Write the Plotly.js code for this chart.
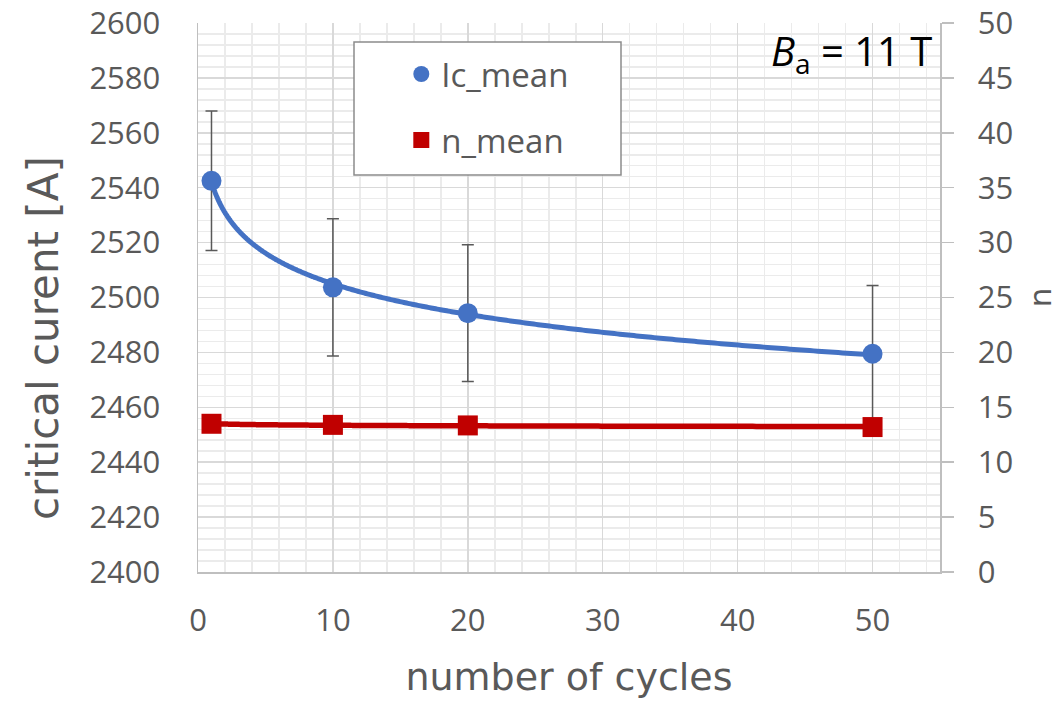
<!DOCTYPE html>
<html>
<head>
<meta charset="utf-8">
<script src="https://cdn.plot.ly/plotly-3.0.1.min.js"></script>
<style>
  html, body { margin: 0; padding: 0; background: #ffffff; }
  #chart { width: 1058px; height: 704px; }
</style>
</head>
<body>
<div id="chart"></div>
<script>
// Number of magnet cycles at which the critical current was measured
const cycles = [1, 10, 20, 50];
// Mean critical current Ic [A] and its spread
const icMean = [2542.5, 2503.7, 2494.3, 2479.5];
const icErr = [25.4, 25.0, 24.9, 24.9];
// Mean n-value of the transition
const nMean = [13.5, 13.4, 13.35, 13.2];

const xTickVals = [0, 10, 20, 30, 40, 50];
const yTickVals = [2400, 2420, 2440, 2460, 2480, 2500, 2520, 2540, 2560, 2580, 2600];
const y2TickVals = [0, 5, 10, 15, 20, 25, 30, 35, 40, 45, 50];

// Least-squares logarithmic trendline y = a*ln(x) + b through the measured points,
// sampled evenly in ln(x) so the steep start stays smooth
function logTrend(xs, ys, samples) {
  const lx = xs.map(Math.log);
  const n = xs.length;
  const mx = lx.reduce((s, v) => s + v, 0) / n;
  const my = ys.reduce((s, v) => s + v, 0) / n;
  let sxy = 0, sxx = 0;
  for (let i = 0; i < n; i++) {
    sxy += (lx[i] - mx) * (ys[i] - my);
    sxx += (lx[i] - mx) * (lx[i] - mx);
  }
  const a = sxy / sxx;
  const b = my - a * mx;
  const l0 = Math.log(Math.min(...xs)), l1 = Math.log(Math.max(...xs));
  const tx = [], ty = [];
  for (let k = 0; k <= samples; k++) {
    const l = l0 + (l1 - l0) * k / samples;
    tx.push(Math.exp(l));
    ty.push(a * l + b);
  }
  return { x: tx, y: ty };
}

const icTrend = logTrend(cycles, icMean, 300);
const nTrend = logTrend(cycles, nMean, 300);

const BLUE = '#4472C4';
const RED = '#C00000';
const TEXT = '#595959';
const TICK_FONT = { family: 'Open Sans, sans-serif', size: 31, color: TEXT };

const traces = [
  {
    x: icTrend.x, y: icTrend.y, yaxis: 'y', type: 'scatter', mode: 'lines',
    line: { color: BLUE, width: 5, shape: 'spline', smoothing: 0.6 },
    showlegend: false, hoverinfo: 'skip'
  },
  {
    x: cycles, y: icMean, yaxis: 'y', type: 'scatter', mode: 'markers',
    name: 'Ic_mean', legendgroup: 'ic',
    marker: { color: BLUE, size: 20, symbol: 'circle' },
    error_y: { type: 'data', array: icErr, visible: true, color: '#595959', thickness: 1.5, width: 6 }
  },
  {
    x: nTrend.x, y: nTrend.y, yaxis: 'y2', type: 'scatter', mode: 'lines',
    line: { color: RED, width: 5.5, shape: 'spline', smoothing: 0.6 },
    showlegend: false, hoverinfo: 'skip'
  },
  {
    x: cycles, y: nMean, yaxis: 'y2', type: 'scatter', mode: 'markers',
    name: 'n_mean', legendgroup: 'n',
    marker: { color: RED, size: 20, symbol: 'square' }
  }
];

const layout = {
  width: 1058, height: 704,
  margin: { l: 198, r: 118, t: 23, b: 132 },
  paper_bgcolor: '#ffffff', plot_bgcolor: '#ffffff',
  font: { family: 'Open Sans, sans-serif', color: TEXT },
  xaxis: {
    range: [0, 55], tickvals: xTickVals, ticks: '',
    showgrid: true, gridcolor: '#d9d9d9', gridwidth: 1.5,
    minor: { dtick: 2, tick0: 0, showgrid: true, gridcolor: '#ebebeb', gridwidth: 1.5 },
    showline: true, linecolor: '#bfbfbf', linewidth: 1.5,
    zeroline: false, tickfont: TICK_FONT, ticklabelstandoff: 20,
    title: { text: 'number of cycles', font: { family: 'DejaVu Sans, sans-serif', size: 38, color: TEXT }, standoff: 24 }
  },
  yaxis: {
    range: [2400, 2600], tickvals: yTickVals, ticks: '',
    showgrid: true, gridcolor: '#d9d9d9', gridwidth: 1.5,
    minor: { dtick: 4, tick0: 2400, showgrid: true, gridcolor: '#ebebeb', gridwidth: 1.5 },
    showline: true, linecolor: '#bfbfbf', linewidth: 1.5,
    zeroline: false, tickfont: TICK_FONT, ticklabelstandoff: 30
  },
  yaxis2: {
    overlaying: 'y', side: 'right', range: [0, 50], tickvals: y2TickVals,
    ticks: 'outside', ticklen: 12, tickwidth: 1.5, tickcolor: '#bfbfbf',
    showgrid: false, zeroline: false,
    showline: true, linecolor: '#bfbfbf', linewidth: 1.5,
    tickfont: TICK_FONT, ticklabelstandoff: 18,
    title: { text: 'n', font: { family: 'DejaVu Sans, sans-serif', size: 31, color: TEXT }, standoff: 24 }
  },
  showlegend: true,
  legend: {
    x: 0.274, xanchor: 'left', y: 0.958, yanchor: 'top',
    bgcolor: 'rgba(0,0,0,0)', borderwidth: 0,
    font: { family: 'Open Sans, sans-serif', size: 33, color: TEXT },
    tracegroupgap: 20, traceorder: 'grouped'
  },
  shapes: [
    {
      type: 'rect', xref: 'paper', yref: 'paper', layer: 'above',
      x0: (354 - 198) / 742, x1: (621 - 198) / 742,
      y0: (572 - 175) / 549, y1: (572 - 42) / 549,
      line: { color: '#8c8c8c', width: 1.5 }, fillcolor: '#ffffff'
    }
  ],
  annotations: [
    {
      text: 'critical curent [A]', xref: 'paper', yref: 'paper',
      x: (43 - 198) / 742, y: (572 - 338) / 549, xanchor: 'center', yanchor: 'middle',
      textangle: -90, showarrow: false,
      font: { family: 'DejaVu Sans, sans-serif', size: 42, color: TEXT }
    },
    {
      text: '<i>B</i><sub>a</sub> = 11 T', xref: 'paper', yref: 'paper',
      x: (934 - 198) / 742, y: (572 - 53) / 549, xanchor: 'right', yanchor: 'middle',
      showarrow: false,
      font: { family: 'Open Sans, sans-serif', size: 40, color: '#000000' }
    }
  ]
};

Plotly.newPlot('chart', traces, layout, { staticPlot: true, displayModeBar: false });
</script>
</body>
</html>
